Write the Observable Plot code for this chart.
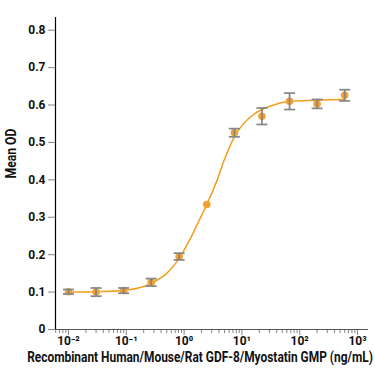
<!DOCTYPE html>
<html><head><meta charset="utf-8">
<script src="https://cdn.jsdelivr.net/npm/d3@7"></script>
<script src="https://cdn.jsdelivr.net/npm/@observablehq/plot@0.6"></script>
<style>
html,body{margin:0;padding:0;background:#fff;}
</style></head><body><div id="chart"></div>
<script>
// Measured points (concentration in ng/mL, mean OD, error)
const conc   = [0.01, 0.03, 0.09, 0.27, 0.82, 2.47, 7.4, 22.2, 66.7, 200, 600];
const meanOD = [0.101, 0.100, 0.104, 0.126, 0.195, 0.334, 0.526, 0.570, 0.610, 0.603, 0.626];
const errOD  = [0.006, 0.011, 0.007, 0.010, 0.009, 0, 0.011, 0.022, 0.022, 0.012, 0.015];

// Fitted curve
const fitX = [0.01, 0.03, 0.09, 0.2, 0.3, 0.5, 0.82, 1.3, 1.8, 2.47, 3.7, 5, 7.4, 10, 14, 22, 40, 67, 200, 600];
const fitY = [0.100, 0.101, 0.104, 0.115, 0.127, 0.150, 0.190, 0.245, 0.290, 0.334, 0.398, 0.455, 0.515, 0.545, 0.568, 0.588, 0.603, 0.610, 0.613, 0.615];

// Axis ticks
const yTicks = [0, 0.1, 0.2, 0.3, 0.4, 0.5, 0.6, 0.7, 0.8];
const xMajor = [0.01, 0.1, 1, 10, 100, 1000];
const xMajorLabels = ["10⁻²", "10⁻¹", "10⁰", "10¹", "10²", "10³"];
const xMinorMult = [2, 3, 4, 5, 6, 7, 8, 9];
const xTitle = "Recombinant Human/Mouse/Rat GDF-8/Myostatin GMP (ng/mL)";
const yTitle = "Mean OD";

const xDomain = [0.00596, 1549];
const xMinor = [];
for (const d of [0.001, 0.01, 0.1, 1, 10, 100]) for (const m of xMinorMult) {
  const v = +(d * m).toPrecision(3);
  if (v >= xDomain[0] && v <= xDomain[1]) xMinor.push(v);
}

const points = conc.map((c, i) => ({c, od: meanOD[i], lo: meanOD[i] - errOD[i], hi: meanOD[i] + errOD[i], e: errOD[i]}));
const bars = points.filter(d => d.e > 0);
const fit = fitX.map((x, i) => ({x, y: fitY[i]}));

const FONT = 'Roboto, "Liberation Sans", sans-serif';
const capSymbol = { draw(ctx) { ctx.moveTo(-5.5, 0); ctx.lineTo(5.5, 0); } };
const GRAY = "#858585";

const chart = Plot.plot({
  width: 375, height: 375,
  marginLeft: 55, marginRight: 7, marginTop: 17, marginBottom: 46,
  style: {fontFamily: FONT, fontWeight: "bold", background: "#fff", color: "#111"},
  x: {type: "log", domain: xDomain},
  y: {domain: [0, 0.834]},
  marks: [
    Plot.axisY({ticks: yTicks, tickFormat: d => d === 0 ? "0" : d.toFixed(1), tickSize: 7, tickPadding: 3,
      fontSize: 12, stroke: GRAY, fill: "#111", label: null}),
    Plot.axisX({ticks: xMinor, tickSize: 4, stroke: GRAY, fill: "none", label: null}),
    Plot.axisX({ticks: xMajor, tickFormat: d => xMajorLabels[xMajor.indexOf(d)], tickSize: 6, tickPadding: 1,
      fontSize: 12, stroke: GRAY, fill: "#111", label: null}),
    Plot.ruleY([0], {stroke: "#555", strokeWidth: 1.2}),
    Plot.ruleX([xDomain[0]], {stroke: "#000", strokeWidth: 1.2}),
    Plot.line(fit, {x: "x", y: "y", curve: "catmull-rom", stroke: "#f49d1c", strokeWidth: 1.5}),
    Plot.dot(points, {x: "c", y: "od", r: 3.8, fill: "#f0a131"}),
    Plot.ruleX(bars, {x: "c", y1: "lo", y2: "hi", stroke: GRAY, strokeWidth: 1.7}),
    Plot.dot(bars, {x: "c", y: "hi", symbol: capSymbol, fill: "none", stroke: GRAY, strokeWidth: 1.7}),
    Plot.dot(bars, {x: "c", y: "lo", symbol: capSymbol, fill: "none", stroke: GRAY, strokeWidth: 1.7}),
    Plot.text([xTitle], {frameAnchor: "bottom", dy: 32, dx: -12, fontSize: 14.5, fill: "#111", className: "xtitle"}),
    Plot.text([yTitle], {frameAnchor: "left", dx: -44, dy: 5, rotate: -90, fontSize: 14.5, fill: "#111", className: "ytitle"})
  ]
});
document.getElementById("chart").append(chart);
// Condense the titles horizontally to mimic the original's condensed typeface
function condense(sel, target) {
  d3.select(chart).selectAll(sel).each(function () {
    const w = this.getComputedTextLength();
    if (w > 0) {
      const t = this.getAttribute("transform") || "";
      this.setAttribute("transform", t + ` scale(${target / w},1)`);
    }
  });
}
condense(".xtitle text", 346);
condense(".ytitle text", 50);
</script></body></html>
